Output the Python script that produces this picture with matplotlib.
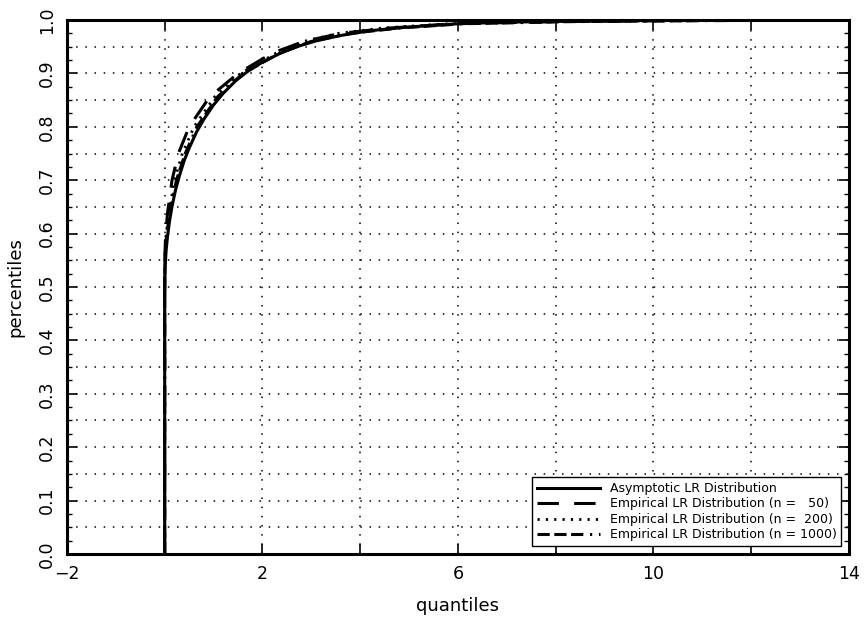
import numpy as np
import matplotlib
matplotlib.use('Agg')
import matplotlib.pyplot as plt

# values
x_asy = [0, 0, 0.01, 0.03, 0.06, 0.1, 0.15, 0.22, 0.3, 0.4, 0.5, 0.65, 0.8, 1.0, 1.2,
         1.45, 1.7, 2.0, 2.35, 2.7, 3.1, 3.6, 4.2, 5.0, 6.0, 7.0, 8.5, 10.5, 13.1]
y_asy = [0, 0.5, 0.54, 0.569, 0.597, 0.624, 0.651, 0.681, 0.708, 0.737, 0.76, 0.79, 0.814,
         0.841, 0.863, 0.886, 0.904, 0.921, 0.937, 0.95, 0.961, 0.971, 0.98, 0.987, 0.993,
         0.996, 0.998, 0.9994, 1.0]

y_emp = [0, 0.5, 0.55, 0.6, 0.64, 0.70, 0.75, 0.80, 0.856, 0.90, 0.938, 0.96, 0.975,
         0.985, 0.993, 0.997, 1.0]
x_n50 = [0, 0, 0.0, 0.02, 0.06, 0.15, 0.28, 0.5, 0.92, 1.5, 2.2, 2.85, 3.6, 4.6, 5.9, 8.0, 12.0]
x_n200 = [0, 0, 0.0, 0.03, 0.09, 0.2, 0.36, 0.6, 1.02, 1.55, 2.28, 2.85, 3.55, 4.45, 5.8, 8.0, 12.5]
x_n1000 = [0, 0, 0.005, 0.04, 0.11, 0.24, 0.42, 0.66, 1.08, 1.6, 2.35, 3.0, 3.8, 4.8, 6.1, 8.3, 13.0]

x_ticks = [-2, 2, 6, 10, 14]
y_ticks = [0.0, 0.1, 0.2, 0.3, 0.4, 0.5, 0.6, 0.7, 0.8, 0.9, 1.0]

labels = ['Asymptotic LR Distribution',
          'Empirical LR Distribution (n =   50)',
          'Empirical LR Distribution (n =  200)',
          'Empirical LR Distribution (n = 1000)']

plt.rcParams['font.family'] = ['DejaVu Sans']

fig = plt.figure(figsize=(8.64, 6.18), dpi=100)
ax = fig.add_axes([0.0775, 0.1036, 0.905, 0.864])

ax.plot(x_asy, y_asy, color='black', lw=2.2, label=labels[0])
ax.plot(x_n50, y_emp, color='black', lw=2.2, dashes=(7, 5), label=labels[1])
ax.plot(x_n200, y_emp, color='black', lw=2.0, dashes=(0.8, 2.2), label=labels[2])
ax.plot(x_n1000, y_emp, color='black', lw=2.2, dashes=(4, 1.5, 4, 1.5, 4, 2.2, 0.7, 2.2),
        label=labels[3])

ax.set_xlim(-2, 14)
ax.set_ylim(0, 1)
ax.set_xticks(x_ticks)
ax.set_xticks(np.arange(-2, 14.1, 2), minor=True)
ax.set_yticks(y_ticks)
ax.set_yticklabels([f'{v:.1f}' for v in y_ticks], rotation=90, va='center')
ax.set_yticks(np.arange(0, 1.001, 0.025), minor=True)

ax.tick_params(which='both', direction='in', top=True, right=True, labelsize=12.5)
ax.tick_params(which='major', length=7, width=1.2, pad=8)
ax.tick_params(which='minor', length=3.5, width=1)
ax.tick_params(axis='x', which='minor', length=7, width=1.2)

for x in np.arange(0, 14, 2):
    ax.axvline(x, color='black', lw=1.1, ls=(0, (1, 5)), zorder=0)
for y in np.arange(0.05, 0.999, 0.05):
    ax.axhline(y, color='black', lw=1.1, ls=(0, (1, 5)), zorder=0)

for s in ax.spines.values():
    s.set_linewidth(2.2)

ax.set_xlabel('quantiles', fontsize=13, labelpad=10)
ax.set_ylabel('percentiles', fontsize=13, labelpad=10)

leg = ax.legend(loc='lower right', fontsize=9, fancybox=False, framealpha=1,
                edgecolor='black', handlelength=5, borderaxespad=0.6,
                labelspacing=0.2)
leg.get_frame().set_linewidth(1.0)

fig.savefig('out.png', dpi=100)
